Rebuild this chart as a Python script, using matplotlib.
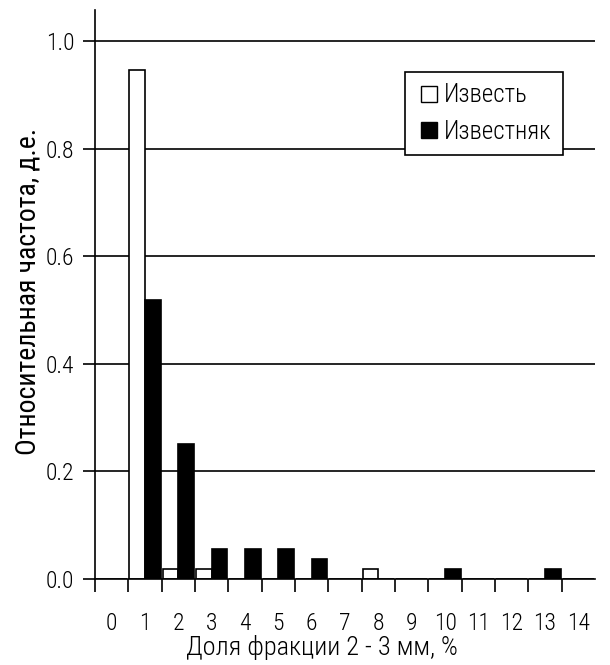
import matplotlib
matplotlib.use("Agg")
import matplotlib.pyplot as plt
import numpy as np
from matplotlib.lines import Line2D

plt.rcParams['font.family'] = ['Roboto Condensed', 'PT Sans Narrow', 'DejaVu Sans']
plt.rcParams['font.weight'] = 'light'

categories = list(range(15))
tick_labels = [str(c) for c in categories]
izvest = [0, 0.947, 0.018, 0.018, 0, 0, 0, 0, 0.018, 0, 0, 0, 0, 0, 0]
izvestnyak = [0, 0.519, 0.251, 0.056, 0.056, 0.056, 0.037, 0, 0, 0, 0.018, 0, 0, 0.018, 0]
series_names = ["Известь", "Известняк"]
yticks = [0.0, 0.2, 0.4, 0.6, 0.8, 1.0]

FS = 17
W, H = 610, 665
fig = plt.figure(figsize=(W/100, H/100), dpi=100)
ax = fig.add_axes([95/W, 1-579/H, 500/W, (579-10)/H])

x = np.arange(len(categories))
bw = 0.47
ax.bar(x - bw/2, izvest, width=bw, color='white', edgecolor='black', linewidth=1.2, zorder=3)
ax.bar(x + bw/2, izvestnyak, width=bw, color='black', edgecolor='black', linewidth=1.2, zorder=3)

ax.set_xlim(-0.5, 14.5)
ax.set_ylim(0, (579-10)/538)
ax.set_yticks(yticks)
ax.set_yticklabels([f"{v:.1f}" for v in yticks], fontsize=FS)
for v in yticks[1:]:
    ax.axhline(v, color='black', linewidth=1.2, zorder=1)

ax.set_xticks(np.arange(-0.5, 14.5, 1.0))
ax.set_xticklabels([])
ax.set_xticks(x, minor=True)
ax.set_xticklabels(tick_labels, minor=True, fontsize=FS)
ax.tick_params(axis='x', which='major', direction='out', length=9, width=1.2)
ax.tick_params(axis='x', which='minor', length=0, pad=24)
ax.tick_params(axis='y', direction='out', length=9, width=1.2, pad=6)

for s in ['top', 'right']:
    ax.spines[s].set_visible(False)
ax.spines['left'].set_linewidth(1.2)
ax.spines['bottom'].set_linewidth(1.2)
ax.spines['bottom'].set_zorder(4)

ax.set_ylabel("Относительная частота, д.е.", fontsize=20, labelpad=3)
ax.yaxis.label.set_y(0.505)
fig.text(322/W, 1-647/H, "Доля фракции 2 - 3 мм, %", fontsize=19, ha='center', va='center')

handles = [
    Line2D([0], [0], marker='s', linestyle='none', markerfacecolor='white', markeredgecolor='black', markersize=11),
    Line2D([0], [0], marker='s', linestyle='none', markerfacecolor='black', markeredgecolor='black', markersize=11),
]
leg = ax.legend(handles, series_names, loc='upper left', bbox_to_anchor=((405-95)/500, (579-72)/569),
                frameon=True, fancybox=False, edgecolor='black', fontsize=FS + 1, framealpha=1,
                handletextpad=0.1, handlelength=1.0, borderpad=0.45, labelspacing=0.5, borderaxespad=0)
leg.get_frame().set_linewidth(1.2)
leg.set_zorder(5)

fig.savefig("out.png", dpi=100)
